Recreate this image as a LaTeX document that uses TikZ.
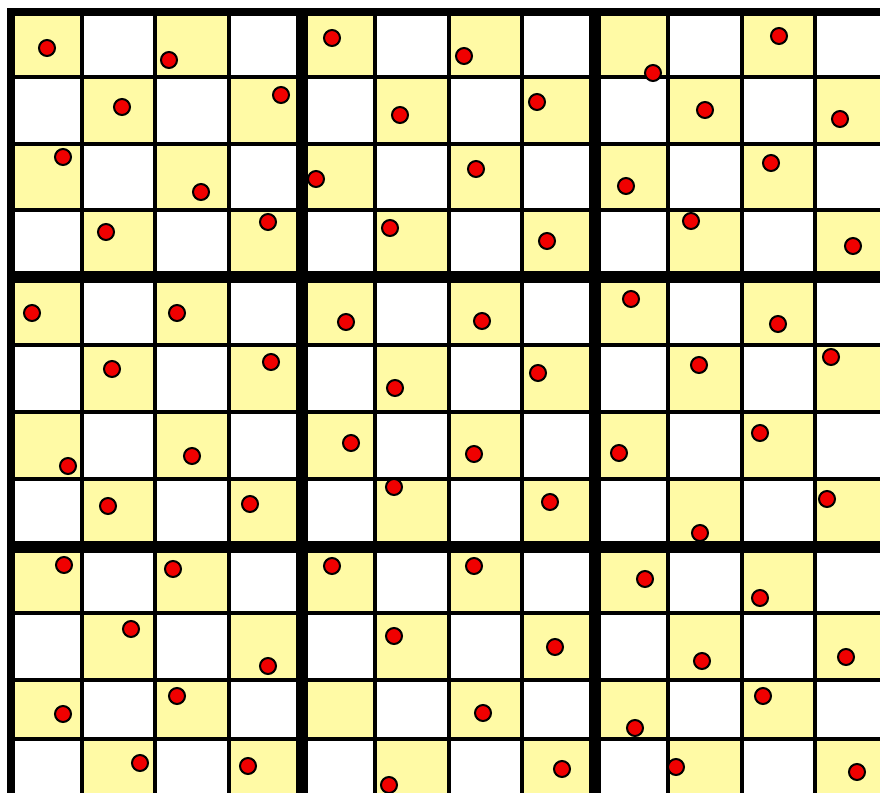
\documentclass[tikz,border=0pt]{standalone}
\usepackage{tikz}
\definecolor{cellyellow}{RGB}{255,250,165}
\definecolor{dotred}{RGB}{240,0,0}
\newcommand{\reddot}[2]{%
  \filldraw[fill=dotred,draw=black,line width=1pt] (#1,#2) circle (8);
}

\begin{document}
\begin{tikzpicture}[x=0.5pt,y=-0.5pt,
  thinline/.style={line width=2pt},
  blockline/.style={line width=6pt},
  outerline/.style={line width=4.25pt,line join=miter}]
  \useasboundingbox (0,0) rectangle (880,793);
  \clip (0,0) rectangle (880,793);
  \foreach \r/\ya/\yb in {0/12/77,1/77/144,2/144/210,3/210/277,4/277/344.5,5/344.5/412,6/412/479,7/479/546.5,8/546.5/612.5,9/612.5/680,10/680/739,11/739/805} {
    \foreach \c/\xa/\xb in {0/11/82,1/82/155,2/155/229,3/229/302,4/302/375,5/375/448.5,6/448.5/521.5,7/521.5/595,8/595/668,9/668/742,10/742/815,11/815/888} {
      \pgfmathtruncatemacro{\odd}{mod(\r+\c,2)}
      \ifnum\odd=0 \fill[cellyellow] (\xa,\ya) rectangle (\xb,\yb); \fi
    }
  }
  \foreach \x in {82,155,229,375,448.5,521.5,668,742,815}
    \draw[thinline] (\x,12) -- (\x,793);
  \foreach \y in {77,144,210,344.5,412,479,612.5,680,739}
    \draw[thinline] (11,\y) -- (880,\y);
  \foreach \x in {302,595}
    \draw[blockline] (\x,12) -- (\x,793);
  \foreach \y in {277,546.5}
    \draw[blockline] (11,\y) -- (880,\y);
  \draw[outerline] (11,793) -- (11,12) -- (880,12);
  \foreach \x/\y in {47/48,169/60,332/38,464/56,653/73,779/36,
                     122/107,281/95,400/115,537/102,705/110,840/119,
                     63/157,201/192,316/179,476/169,626/186,771/163,
                     106/232,268/222,390/228,547/241,691/221,853/246,
                     32/313,177/313,346/322,482/321,631/299,778/324,
                     112/369,271/362,395/388,538/373,699/365,831/357,
                     68/466,192/456,351/443,474/454,619/453,760/433,
                     108/506,250/504,394/487,550/502,700/533,827/499,
                     64/565,173/569,332/566,474/566,645/579,760/598,
                     131/629,268/666,394/636,555/647,702/661,846/657,
                     63/714,177/696,483/713,635/728,763/696,
                     140/763,248/766,389/785,562/769,676/767,857/772}
    {\reddot{\x}{\y}}
\end{tikzpicture}
\end{document}
